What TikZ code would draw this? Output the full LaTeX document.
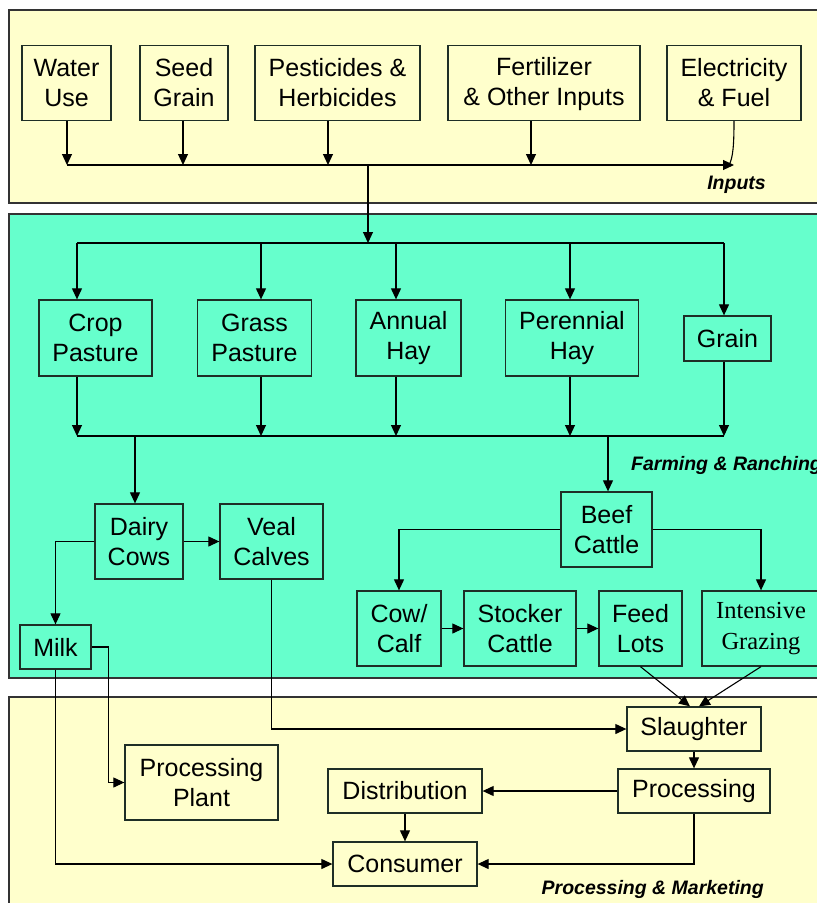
\documentclass[tikz,border=0pt]{standalone}
\usepackage{fontspec}
\setmainfont{Liberation Sans}
\newfontfamily\serifA{Liberation Serif}
\usetikzlibrary{arrows.meta}
\definecolor{yel}{HTML}{FFFFCC}
\definecolor{grn}{HTML}{66FFCC}
\definecolor{edge}{HTML}{333333}
\definecolor{boxline}{HTML}{1E2E26}
\tikzset{
  panel/.style={draw=edge, line width=1.8pt},
  box/.style={rectangle, draw=boxline, line width=1.3pt, inner sep=0pt, align=center,
              font=\fontsize{25}{30}\selectfont},
  arr/.style={-{Triangle[length=11pt,width=10pt]}, line width=1.1pt},
  ln/.style={line width=1.1pt},
  lab/.style={font=\bfseries\itshape\fontsize{19.5}{22}\selectfont, inner sep=0pt}
}
\begin{document}
\begin{tikzpicture}[x=1pt,y=-1pt]
\useasboundingbox (0,0) rectangle (817,903);
\clip (0,0) rectangle (817,903);
% panels
\draw[panel, fill=yel] (9,10) rectangle (830,203);
\draw[panel, fill=grn] (9,214) rectangle (830,678);
\draw[panel, fill=yel] (9,697) rectangle (830,915);

% top boxes
\node[box, minimum width=89pt, minimum height=75pt] (water) at (66.5,83) {Water\\Use};
\node[box, minimum width=88pt, minimum height=75pt] (seed) at (184,83) {Seed\\Grain};
\node[box, minimum width=165pt, minimum height=75pt] (pest) at (337.5,83) {Pesticides \&\\Herbicides};
\node[box, minimum width=192pt, minimum height=75pt] (fert) at (544,83) {\strut Fertilizer\\\& Other Inputs};
\node[box, minimum width=134pt, minimum height=75pt] (elec) at (734,83) {Electricity\\\& Fuel};

\coordinate (b1) at (67,165);
\coordinate (b2) at (183,165);
\coordinate (b3) at (328,165);
\coordinate (b4) at (531,165);
\coordinate (b5) at (734,165);
\coordinate (trunk) at (368,165);
\draw[arr] (water.south -| b1) -- (b1);
\draw[arr] (seed.south -| b2) -- (b2);
\draw[arr] (pest.south -| b3) -- (b3);
\draw[arr] (fert.south -| b4) -- (b4);
\draw[arr] (b1) -- (b5);
\draw[ln] (elec.south) .. controls (734,145) and (733,158) .. (729,165);
\node[lab, anchor=east] (inputs) at (766,185) {Inputs};

% middle
\coordinate (t2) at (368,243);
\draw[arr] (trunk) -- (t2);
\node[box, minimum width=113pt, minimum height=76pt] (crop) at (95.5,338) {Crop\\Pasture};
\node[box, minimum width=114pt, minimum height=76pt] (grass) at (254.5,338) {Grass\\Pasture};
\node[box, minimum width=105pt, minimum height=76pt] (annual) at (408.5,338) {Annual\\Hay};
\node[box, minimum width=133pt, minimum height=76pt] (peren) at (572,338) {Perennial\\Hay};
\node[box, minimum width=87pt, minimum height=45pt] (grain) at (727.5,338.5) {Grain};

\coordinate (m1) at (77,243);
\coordinate (m2) at (261,243);
\coordinate (m3) at (396,243);
\coordinate (m4) at (570,243);
\coordinate (m5) at (724,243);
\draw[ln] (m1) -- (m5);
\draw[arr] (m1) -- (crop.north -| m1);
\draw[arr] (m2) -- (grass.north -| m2);
\draw[arr] (m3) -- (annual.north -| m3);
\draw[arr] (m4) -- (peren.north -| m4);
\draw[arr] (m5) -- (grain.north -| m5);

\coordinate (l1) at (77,436);
\coordinate (l2) at (261,436);
\coordinate (l3) at (396,436);
\coordinate (l4) at (570,436);
\coordinate (l5) at (724,436);
\coordinate (ld) at (135,436);
\coordinate (lb) at (608,436);
\draw[arr] (crop.south -| l1) -- (l1);
\draw[arr] (grass.south -| l2) -- (l2);
\draw[arr] (annual.south -| l3) -- (l3);
\draw[arr] (peren.south -| l4) -- (l4);
\draw[arr] (grain.south -| l5) -- (l5);
\draw[ln] (l1) -- (l5);

\node[lab, anchor=west] (farm) at (631,465) {Farming \& Ranching};

\node[box, minimum width=88pt, minimum height=75pt] (dairy) at (139,541.5) {Dairy\\Cows};
\node[box, minimum width=103pt, minimum height=75pt] (veal) at (271.5,541.5) {Veal\\Calves};
\node[box, minimum width=71pt, minimum height=44pt] (milk) at (55.5,647) {Milk};
\node[box, minimum width=91pt, minimum height=75pt] (beef) at (606.5,529.5) {Beef\\Cattle};
\node[box, minimum width=84pt, minimum height=75pt] (cow) at (399,628.5) {Cow/\\Calf};
\node[box, minimum width=112pt, minimum height=75pt] (stocker) at (520,628.5) {Stocker\\Cattle};
\node[box, minimum width=83pt, minimum height=75pt] (feed) at (640.5,628.5) {Feed\\Lots};
\node[box, minimum width=118pt, minimum height=75pt, font=\serifA\fontsize{24.5}{31}\selectfont] (intens) at (761,628.5) {\raisebox{-3pt}{Intensive}\\\raisebox{-3pt}{Grazing}};

\draw[arr] (ld) -- (dairy.north -| ld);
\draw[arr] (lb) -- (beef.north -| lb);
\draw[arr] (dairy.east) -- (veal.west);
\draw[arr] (dairy.west) -| (milk.north);
\draw[arr] (beef.west) -| (cow.north);
\draw[arr] (beef.east) -| (intens.north);
\draw[arr] (cow.east) -- (stocker.west);
\draw[arr] (stocker.east) -- (feed.west);

% bottom
\node[box, minimum width=134pt, minimum height=44pt] (slaughter) at (694,729) {Slaughter};
\node[box, minimum width=152pt, minimum height=44pt] (processing) at (694,791) {Processing};
\node[box, minimum width=154pt, minimum height=44pt] (distrib) at (405,791) {Distribution};
\node[box, minimum width=144pt, minimum height=44pt] (consumer) at (405,864) {Consumer};
\node[box, minimum width=153pt, minimum height=75pt] (plant) at (201.5,782.5) {Processing\\Plant};

\draw[arr] (feed.south) -- ([xshift=-4pt]slaughter.north);
\draw[arr] (intens.south) -- ([xshift=5pt]slaughter.north);
\draw[arr] (veal.south) |- (slaughter.west);
\draw[arr] (milk.east) -- ++(17,0) |- (plant.west);
\draw[arr] (milk.south) |- (consumer.west);
\draw[arr] (slaughter.south) -- (processing.north);
\draw[arr] (processing.west) -- (distrib.east);
\draw[arr] (distrib.south) -- (consumer.north);
\draw[arr] (processing.south) |- (consumer.east);

\node[lab, anchor=east] (pm) at (764,889) {Processing \& Marketing};
\end{tikzpicture}
\end{document}
